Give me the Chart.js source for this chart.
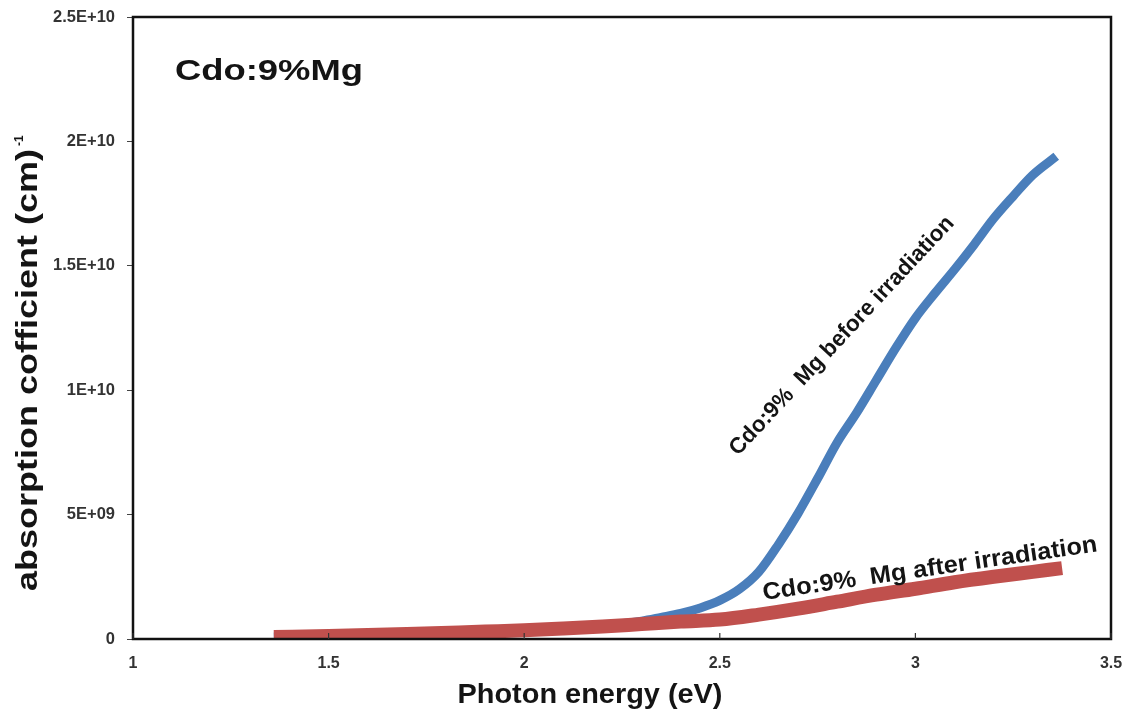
<!DOCTYPE html>
<html>
<head>
<meta charset="utf-8">
<script src="https://cdn.jsdelivr.net/npm/chart.js@4.4.1/dist/chart.umd.min.js"></script>
<style>
  html, body { margin: 0; padding: 0; background: #fff; }
  #wrap { width: 1132px; height: 722px; }
</style>
</head>
<body>
<div id="wrap"><canvas id="chart" width="1132" height="722"></canvas></div>
<script>
// Photon energy (eV) and absorption coefficient (cm^-1) for Cdo:9% Mg
const energyBefore = [1.36, 1.5, 1.7, 1.9, 2.0, 2.1, 2.2, 2.3, 2.35, 2.4, 2.45, 2.5, 2.55, 2.6, 2.65, 2.7, 2.75, 2.8, 2.85, 2.9, 2.95, 3.0, 3.05, 3.1, 3.15, 3.2, 3.25, 3.3, 3.36];
const alphaBefore  = [0.08e9, 0.12e9, 0.2e9, 0.3e9, 0.36e9, 0.44e9, 0.55e9, 0.72e9, 0.87e9, 1.03e9, 1.25e9, 1.55e9, 2.0e9, 2.7e9, 3.8e9, 5.05e9, 6.45e9, 7.9e9, 9.1e9, 10.4e9, 11.7e9, 12.9e9, 13.9e9, 14.85e9, 15.85e9, 16.9e9, 17.8e9, 18.65e9, 19.4e9];

const energyAfter = [1.36, 1.5, 1.7, 1.9, 2.0, 2.1, 2.2, 2.3, 2.4, 2.5, 2.6, 2.7, 2.8, 2.9, 3.0, 3.1, 3.2, 3.3, 3.375];
const alphaAfter  = [0.08e9, 0.12e9, 0.2e9, 0.3e9, 0.35e9, 0.42e9, 0.5e9, 0.6e9, 0.7e9, 0.78e9, 0.98e9, 1.22e9, 1.5e9, 1.78e9, 2.02e9, 2.28e9, 2.5e9, 2.7e9, 2.85e9];

const xTickLabels = ['1', '1.5', '2', '2.5', '3', '3.5'];
const yTickLabels = ['0', '5E+09', '1E+10', '1.5E+10', '2E+10', '2.5E+10'];

const sampleLabel = 'Cdo:9%Mg';
const beforeLabel = 'Cdo:9%  Mg before irradiation';
const afterLabel  = 'Cdo:9%  Mg after irradiation';
const xTitle = 'Photon energy (eV)';
const yTitle = 'absorption cofficient (cm)';
const yTitleSup = '-1';

const toPoints = (xs, ys) => xs.map((x, i) => ({ x: x, y: ys[i] }));

const FONT = '"Liberation Sans", Arial, sans-serif';
const INK = '#141414';

// draws bold text, optionally stretched along its baseline to a given length
function stretchedText(ctx, text, x, y, angleDeg, fontPx, targetLen, align) {
  ctx.save();
  ctx.font = 'bold ' + fontPx + 'px ' + FONT;
  const w = ctx.measureText(text).width;
  const s = targetLen ? targetLen / w : 1;
  ctx.translate(x, y);
  ctx.rotate(angleDeg * Math.PI / 180);
  ctx.scale(s, 1);
  ctx.textAlign = align || 'center';
  ctx.textBaseline = 'middle';
  ctx.fillStyle = INK;
  ctx.fillText(text, 0, 0);
  ctx.restore();
  return w * s;
}

const decorations = {
  id: 'decorations',
  afterDraw(chart) {
    const ctx = chart.ctx;
    const a = chart.chartArea;
    const xs = chart.scales.x;

    // frame around the plot area
    ctx.save();
    ctx.strokeStyle = '#111';
    ctx.lineWidth = 2.5;
    ctx.strokeRect(a.left, a.top, a.right - a.left, a.bottom - a.top);

    // short inward tick marks on the energy axis
    ctx.lineWidth = 1.2;
    ctx.strokeStyle = '#333';
    xs.ticks.forEach(t => {
      const px = xs.getPixelForValue(t.value);
      ctx.beginPath();
      ctx.moveTo(px, a.bottom);
      ctx.lineTo(px, a.bottom - 6);
      ctx.stroke();
    });
    ctx.restore();

    // sample name
    stretchedText(ctx, sampleLabel, 175, 72, 0, 30, 188, 'left');

    // curve labels
    stretchedText(ctx, beforeLabel, 842, 336, -47, 22.5, 318);
    stretchedText(ctx, afterLabel, 930, 569, -8.3, 24, 338);

    // axis titles
    stretchedText(ctx, xTitle, 590, 695, 0, 28, 265);
    const len = stretchedText(ctx, yTitle, 29, 370, -90, 30, 442);
    ctx.save();
    ctx.font = 'bold 12px ' + FONT;
    ctx.fillStyle = INK;
    ctx.translate(20, 370 - len / 2 - 3);
    ctx.rotate(-Math.PI / 2);
    ctx.textAlign = 'left';
    ctx.textBaseline = 'middle';
    ctx.fillText(yTitleSup, 0, 0);
    ctx.restore();
  }
};

new Chart(document.getElementById('chart'), {
  type: 'line',
  data: {
    datasets: [
      {
        label: 'after irradiation',
        data: toPoints(energyAfter, alphaAfter),
        borderColor: '#C0504D',
        borderWidth: 14,
        pointRadius: 0,
        cubicInterpolationMode: 'monotone',
        borderCapStyle: 'butt',
        order: 0
      },
      {
        label: 'before irradiation',
        data: toPoints(energyBefore, alphaBefore),
        borderColor: '#4A7EBB',
        borderWidth: 9,
        pointRadius: 0,
        cubicInterpolationMode: 'monotone',
        borderCapStyle: 'butt',
        order: 1
      }
    ]
  },
  options: {
    responsive: false,
    animation: false,
    layout: { padding: { left: 0, top: 17, right: 21, bottom: 0 } },
    plugins: {
      legend: { display: false },
      tooltip: { enabled: false }
    },
    scales: {
      x: {
        type: 'linear',
        min: 1,
        max: 3.5,
        afterFit: s => { s.height = 83; s.paddingLeft = 0; s.paddingRight = 0; },
        afterBuildTicks: s => { s.ticks = xTickLabels.map(v => ({ value: parseFloat(v) })); },
        border: { display: false },
        grid: { display: true, drawOnChartArea: false, drawTicks: false },
        ticks: {
          padding: 15,
          maxRotation: 0,
          color: '#333',
          font: { family: FONT, size: 16, weight: 'bold' },
          callback: (v, i) => xTickLabels[i]
        }
      },
      y: {
        type: 'linear',
        min: 0,
        max: 2.5e10,
        afterFit: s => { s.width = 133; s.paddingTop = 0; s.paddingBottom = 0; },
        afterBuildTicks: s => { s.ticks = yTickLabels.map((l, i) => ({ value: i * 5e9 })); },
        border: { display: false },
        grid: { drawOnChartArea: false, drawTicks: true, tickLength: 6, color: '#444', lineWidth: 1 },
        ticks: {
          padding: 12,
          color: '#333',
          font: { family: FONT, size: 16.5, weight: 'bold' },
          callback: (v, i) => yTickLabels[i]
        }
      }
    }
  },
  plugins: [decorations]
});
</script>
</body>
</html>
